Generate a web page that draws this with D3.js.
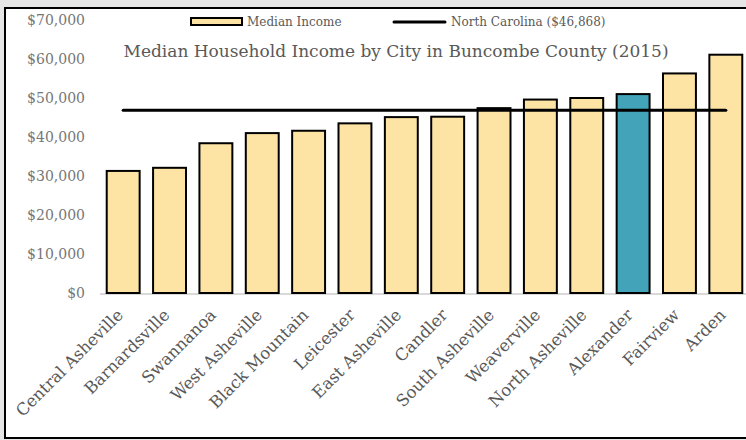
<!DOCTYPE html>
<html>
<head>
<meta charset="utf-8">
<script src="https://cdn.jsdelivr.net/npm/d3@7"></script>
<style>
  body { margin: 0; background: #e6e6e6; }
  svg { display: block; }
  text { font-family: "DejaVu Serif", "Liberation Serif", serif; }
</style>
</head>
<body>
<div id="chart"></div>
<script>
// data
var cities = ["Central Asheville", "Barnardsville", "Swannanoa", "West Asheville",
  "Black Mountain", "Leicester", "East Asheville", "Candler", "South Asheville",
  "Weaverville", "North Asheville", "Alexander", "Fairview", "Arden"];
var incomes = [31300, 32100, 38400, 41000, 41600, 43500, 45100, 45200, 47400,
  49600, 50000, 51000, 56300, 61100];
var highlight = "Alexander";
var ncMedian = 46868;
var yTicks = [0, 10000, 20000, 30000, 40000, 50000, 60000, 70000];

var W = 746, H = 440;
var margin = {top: 20, left: 100, bottom: 147, right: -3};
var width = W - margin.left - margin.right,
    height = H - margin.top - margin.bottom;

var svg = d3.select("#chart").append("svg")
    .attr("width", W)
    .attr("height", H);

// white panel with black frame
svg.append("rect")
    .attr("x", 5).attr("y", 8)
    .attr("width", W).attr("height", 430)
    .attr("fill", "#fff")
    .attr("stroke", "#000")
    .attr("stroke-width", 2);

var g = svg.append("g")
    .attr("transform", "translate(" + margin.left + "," + margin.top + ")");

var x = d3.scaleBand()
    .domain(cities)
    .range([0, width])
    .paddingInner(0.29)
    .paddingOuter(0.145);

var y = d3.scaleLinear()
    .domain([0, 70000])
    .range([height, 0]);

// y axis labels only
var yAxis = g.append("g")
    .call(d3.axisLeft(y).tickValues(yTicks).tickSize(0).tickPadding(15)
      .tickFormat(function(d) { return "$" + d3.format(",")(d); }))
    .attr("font-family", "DejaVu Serif");
yAxis.select(".domain").remove();
yAxis.selectAll("text")
    .style("font-family", "DejaVu Serif")
    .attr("font-size", 14)
    .attr("fill", "#767676");

// baseline
g.append("line")
    .attr("x1", 0).attr("x2", width + 10)
    .attr("y1", height + 1).attr("y2", height + 1)
    .attr("stroke", "#d9d9d9")
    .attr("stroke-width", 2);

// bars
g.selectAll("rect.bar")
  .data(cities)
  .enter()
  .append("rect")
    .attr("class", "bar")
    .attr("x", function(d) { return x(d); })
    .attr("y", function(d, i) { return y(incomes[i]); })
    .attr("width", x.bandwidth())
    .attr("height", function(d, i) { return height - y(incomes[i]); })
    .attr("fill", function(d) { return d == highlight ? "#42a3b9" : "#fde4a4"; })
    .attr("stroke", "#000")
    .attr("stroke-width", 2);

// North Carolina line
g.append("line")
    .attr("x1", x(cities[0]) + x.bandwidth() / 2)
    .attr("x2", x(cities[cities.length - 1]) + x.bandwidth() / 2)
    .attr("y1", y(ncMedian)).attr("y2", y(ncMedian))
    .attr("stroke", "#000")
    .attr("stroke-width", 3)
    .attr("stroke-linecap", "round");

// x labels, rotated
g.selectAll("text.city")
  .data(cities)
  .enter()
  .append("text")
    .attr("class", "city")
    .attr("text-anchor", "end")
    .attr("font-size", 16.5)
    .attr("fill", "#595959")
    .attr("transform", function(d) {
      return "translate(" + (x(d) + x.bandwidth() / 2 + 1) + "," + (height + 23) + ") rotate(-45)";
    })
    .text(function(d) { return d; });

// title
svg.append("text")
    .attr("x", 396).attr("y", 57)
    .attr("text-anchor", "middle")
    .attr("font-size", 17)
    .attr("fill", "#595959")
    .text("Median Household Income by City in Buncombe County (2015)");

// legend
var legend = svg.append("g");
legend.append("rect")
    .attr("x", 191).attr("y", 18)
    .attr("width", 51).attr("height", 7)
    .attr("fill", "#fde4a4")
    .attr("stroke", "#000")
    .attr("stroke-width", 2);
legend.append("text")
    .attr("x", 247).attr("y", 26)
    .attr("font-size", 12)
    .attr("fill", "#595959")
    .text("Median Income");
legend.append("line")
    .attr("x1", 394).attr("x2", 445)
    .attr("y1", 22).attr("y2", 22)
    .attr("stroke", "#000")
    .attr("stroke-width", 3)
    .attr("stroke-linecap", "round");
legend.append("text")
    .attr("x", 451).attr("y", 26)
    .attr("font-size", 12)
    .attr("fill", "#595959")
    .text("North Carolina ($46,868)");
</script>
</body>
</html>
